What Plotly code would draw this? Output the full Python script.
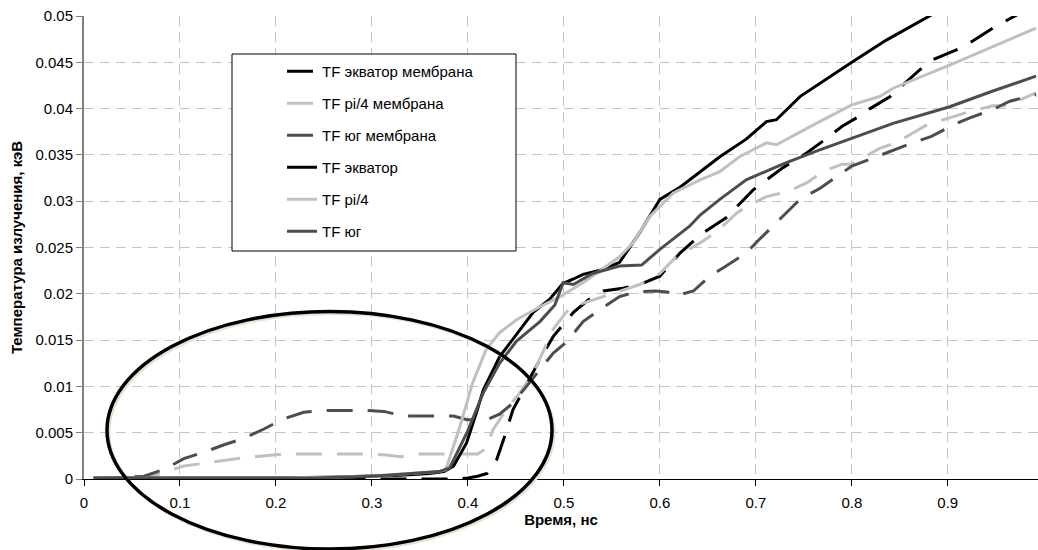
import plotly.graph_objects as go

# ---------------- data (time in ns, temperature in keV) ----------------
t_eq_mem = [0.01, 0.1, 0.2, 0.3, 0.39, 0.40, 0.41, 0.42, 0.43, 0.437, 0.447, 0.458, 0.475, 0.489,
            0.503, 0.51, 0.525, 0.541, 0.5615, 0.579, 0.6, 0.621, 0.635, 0.647, 0.669, 0.697,
            0.728, 0.75, 0.77, 0.79, 0.805, 0.819, 0.84, 0.857, 0.871, 0.885, 0.9125, 0.926,
            0.947, 0.9715, 0.994]
v_eq_mem = [0.0, 0.0, 0.0, 0.0, 0.0, 0.0001, 0.0003, 0.0006, 0.0021, 0.0042, 0.0075, 0.0096, 0.0129,
            0.0154, 0.0172, 0.018, 0.0193, 0.0203, 0.0206, 0.021, 0.0219, 0.0244, 0.0257, 0.0267,
            0.0282, 0.0312, 0.0336, 0.035, 0.0365, 0.0381, 0.039, 0.04, 0.0413, 0.0429, 0.0442,
            0.0453, 0.0465, 0.0473, 0.0487, 0.0501, 0.0513]

t_pi4_mem = [0.01, 0.06, 0.08, 0.104, 0.1667, 0.208, 0.25, 0.3, 0.315, 0.33, 0.35, 0.41, 0.419,
             0.426, 0.44, 0.454, 0.468, 0.482, 0.489, 0.506, 0.527, 0.5615, 0.579, 0.6, 0.617,
             0.642, 0.659, 0.68, 0.69, 0.711, 0.732, 0.7535, 0.77, 0.79, 0.8, 0.829, 0.846, 0.864,
             0.881, 0.902, 0.92, 0.947, 0.961, 0.992]
v_pi4_mem = [0.0, 0.0, 0.0006, 0.0014, 0.0023, 0.0027, 0.0027, 0.0027, 0.0026, 0.0024, 0.0027,
             0.0027, 0.0033, 0.0053, 0.0075, 0.0093, 0.0114, 0.0147, 0.0162, 0.0185, 0.0192,
             0.0204, 0.021, 0.0222, 0.024, 0.0255, 0.0267, 0.0287, 0.0294, 0.0305, 0.031, 0.032,
             0.0332, 0.034, 0.034, 0.0357, 0.0363, 0.0374, 0.0384, 0.039, 0.0396, 0.0403, 0.0403,
             0.0417]

t_south_mem = [0.01, 0.0625, 0.085, 0.104, 0.125, 0.146, 0.1667, 0.1875, 0.208, 0.229, 0.25, 0.295,
               0.3125, 0.333, 0.35, 0.385, 0.399, 0.42, 0.433, 0.447, 0.461, 0.475, 0.489, 0.5028,
               0.52, 0.5375, 0.558, 0.575, 0.596, 0.6076, 0.617, 0.635, 0.652, 0.669, 0.69, 0.702,
               0.718, 0.732, 0.746, 0.767, 0.7847, 0.8, 0.8257, 0.843, 0.853, 0.883, 0.907, 0.923,
               0.947, 0.9646, 0.992]
v_south_mem = [0.0, 0.0003, 0.0011, 0.0022, 0.0029, 0.0037, 0.0044, 0.0054, 0.0065, 0.0072, 0.0074,
               0.0074, 0.0073, 0.0068, 0.0068, 0.0068, 0.0064, 0.0064, 0.007, 0.0082, 0.01, 0.0118,
               0.0136, 0.0148, 0.017, 0.0183, 0.0197, 0.0202, 0.0203, 0.0202, 0.0198, 0.0203,
               0.0219, 0.023, 0.0244, 0.0257, 0.0273, 0.0287, 0.0302, 0.0314, 0.0327, 0.0338,
               0.0348, 0.0355, 0.0359, 0.037, 0.0383, 0.039, 0.0399, 0.0408, 0.0415]

t_eq = [0.01, 0.1, 0.2, 0.25, 0.3, 0.33, 0.36, 0.375, 0.385, 0.3986, 0.409, 0.416, 0.433, 0.4507,
        0.468, 0.485, 0.499, 0.51, 0.52, 0.54, 0.558, 0.579, 0.6, 0.621, 0.6417, 0.6625, 0.69,
        0.711, 0.7215, 0.746, 0.8, 0.836, 0.881, 0.92]
v_eq = [0.0001, 0.0001, 0.0001, 0.0002, 0.0003, 0.0004, 0.0006, 0.0008, 0.0014, 0.0039, 0.0072,
        0.0096, 0.0132, 0.0156, 0.018, 0.0194, 0.0211, 0.0216, 0.0221, 0.0226, 0.0234, 0.0266,
        0.0302, 0.0315, 0.0331, 0.0348, 0.0367, 0.0386, 0.0388, 0.0413, 0.045, 0.0474, 0.05,
        0.0525]

t_pi4 = [0.01, 0.2, 0.3, 0.35, 0.37, 0.377, 0.3917, 0.405, 0.419, 0.433, 0.4507, 0.475, 0.496,
         0.52, 0.558, 0.572, 0.59, 0.614, 0.642, 0.6625, 0.683, 0.711, 0.7215, 0.763, 0.8, 0.829,
         0.843, 0.902, 0.947, 0.992]
v_pi4 = [0.0001, 0.0001, 0.0003, 0.0006, 0.0008, 0.001, 0.0057, 0.0104, 0.014, 0.0158, 0.0172,
         0.0186, 0.0197, 0.0212, 0.024, 0.0255, 0.0284, 0.0309, 0.0323, 0.0332, 0.0348, 0.0363,
         0.0361, 0.0384, 0.0404, 0.0413, 0.0422, 0.0447, 0.0467, 0.0487]

t_south = [0.01, 0.1, 0.2, 0.24, 0.3, 0.33, 0.354, 0.37, 0.381, 0.399, 0.416, 0.433, 0.4507, 0.475,
           0.4906, 0.4993, 0.51, 0.53, 0.558, 0.581, 0.6, 0.631, 0.642, 0.6625, 0.69, 0.728, 0.763,
           0.8, 0.829, 0.843, 0.902, 0.947, 0.992]
v_south = [0.0001, 0.0001, 0.0001, 0.0001, 0.0003, 0.0005, 0.00065, 0.0008, 0.0012, 0.005, 0.0093,
           0.0125, 0.0149, 0.017, 0.0188, 0.0212, 0.021, 0.0222, 0.023, 0.0231, 0.0248, 0.0273,
           0.0285, 0.0302, 0.0323, 0.034, 0.0354, 0.0368, 0.0379, 0.0384, 0.0402, 0.0419, 0.0435]

names = ["TF экватор мембрана", "TF pi/4 мембрана", "TF юг мембрана",
         "TF экватор", "TF pi/4", "TF юг"]

x_ticks = [0, 0.1, 0.2, 0.3, 0.4, 0.5, 0.6, 0.7, 0.8, 0.9]
x_tick_labels = ["0", "0.1", "0.2", "0.3", "0.4", "0.5", "0.6", "0.7", "0.8", "0.9"]
y_ticks = [0, 0.005, 0.01, 0.015, 0.02, 0.025, 0.03, 0.035, 0.04, 0.045, 0.05]
y_tick_labels = ["0", "0.005", "0.01", "0.015", "0.02", "0.025", "0.03", "0.035", "0.04",
                 "0.045", "0.05"]

x_title = "Время, нс"
y_title = "Температура излучения, кэВ"

# ---------------- figure ----------------
BLACK = "#000000"
LIGHT = "#c0c0c0"
DARK = "#4d4d4d"
DASH = "26px,15px"

series = [
    (names[0], t_eq_mem, v_eq_mem, BLACK, DASH),
    (names[1], t_pi4_mem, v_pi4_mem, LIGHT, DASH),
    (names[2], t_south_mem, v_south_mem, DARK, DASH),
    (names[3], t_eq, v_eq, BLACK, "solid"),
    (names[4], t_pi4, v_pi4, LIGHT, "solid"),
    (names[5], t_south, v_south, DARK, "solid"),
]

FONT = "Liberation Sans, Arial, sans-serif"

fig = go.Figure()
for i, (name, t, v, color, dash) in enumerate(series):
    fig.add_trace(go.Scatter(x=t, y=v, mode="lines", name=name, legendgroup="g%d" % i,
                             line=dict(color=color, width=3, dash=dash)))

L, R, T, B = 84, 0, 16, 71
W, H = 1038, 550
pw, ph = W - L - R, H - T - B


def px_x(p):
    return (p - L) / pw


def px_y(p):
    return (H - B - p) / ph


shapes = [
    # legend box
    dict(type="rect", xref="paper", yref="paper", x0=px_x(232), x1=px_x(516),
         y0=px_y(251), y1=px_y(54), line=dict(color="#000000", width=1),
         fillcolor="white", layer="above"),
    # ellipse shadow
    dict(type="circle", xref="paper", yref="paper", x0=px_x(109), x1=px_x(554),
         y0=px_y(551), y1=px_y(313.5), line=dict(color="#e6e2d2", width=3), layer="above"),
    # ellipse
    dict(type="circle", xref="paper", yref="paper", x0=px_x(107), x1=px_x(552),
         y0=px_y(549), y1=px_y(311.5), line=dict(color="#000000", width=3.5), layer="above"),
]

grid = dict(showgrid=True, gridcolor="#c4c4c4", gridwidth=1, griddash="10px,6px", zeroline=False)

fig.update_layout(
    width=W, height=H,
    margin=dict(l=L, r=R, t=T, b=B, autoexpand=False),
    paper_bgcolor="white", plot_bgcolor="white",
    font=dict(family=FONT, size=15, color="#000000"),
    showlegend=True,
    legend=dict(x=px_x(282), y=px_y(55), xanchor="left", yanchor="top",
                bgcolor="rgba(0,0,0,0)", borderwidth=0, tracegroupgap=9.5,
                font=dict(family=FONT, size=15, color="#000000")),
    shapes=shapes,
    xaxis=dict(range=[0, 0.994], tickmode="array", tickvals=x_ticks, ticktext=x_tick_labels,
               showline=True, linecolor="#000000", linewidth=1, ticks="outside", ticklen=6,
               tickcolor="#000000", tickfont=dict(size=15), automargin=False,
               ticklabelstandoff=4,
               title=dict(text=x_title, font=dict(size=15, weight="bold"), standoff=2), **grid),
    yaxis=dict(range=[0, 0.05], tickmode="array", tickvals=y_ticks, ticktext=y_tick_labels,
               showline=True, linecolor="#808080", linewidth=2, ticks="outside", ticklen=6,
               tickcolor="#808080", tickfont=dict(size=15), automargin=False,
               title=dict(text=y_title, font=dict(size=15, weight="bold"), standoff=9.5), **grid),
)

fig.write_html("out.html", config={"displayModeBar": False},
               post_script="document.body.style.margin='0';document.body.style.overflow='hidden';")
